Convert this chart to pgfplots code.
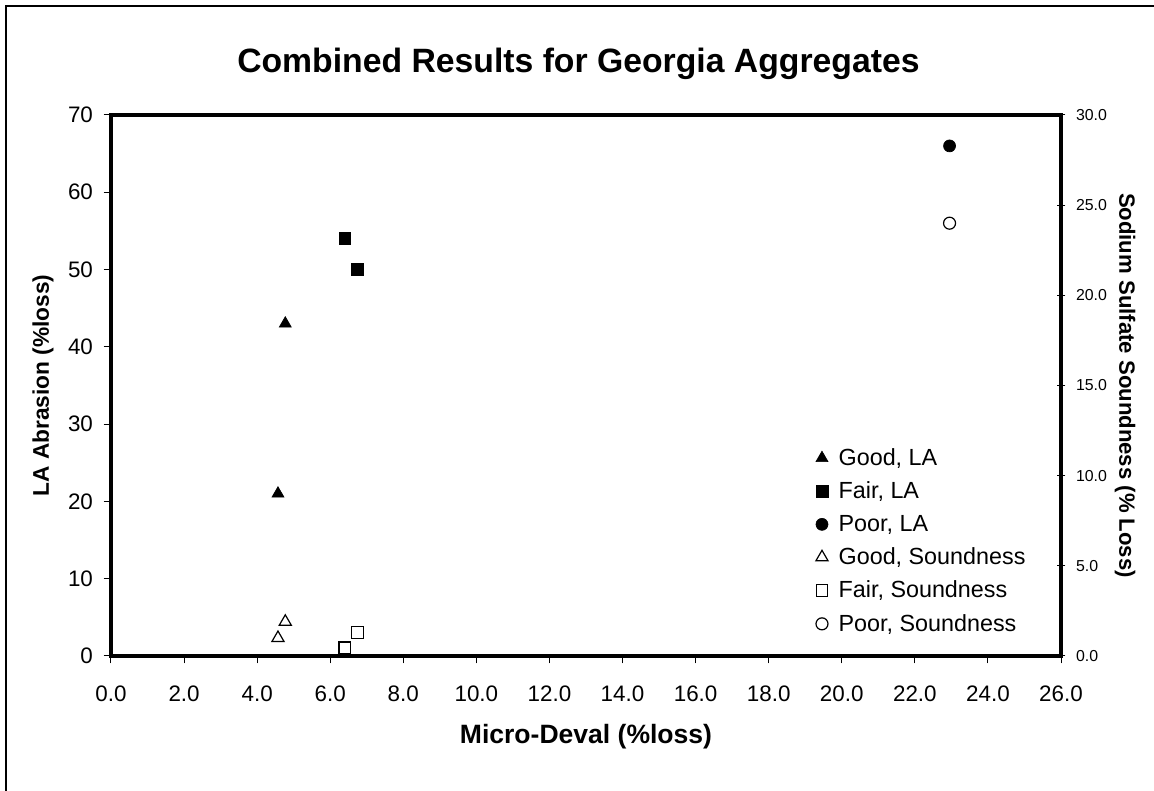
\documentclass[border=0pt]{standalone}
\usepackage{fontspec}
\setmainfont{Liberation Sans}
\usepackage{pgfplots}
\pgfplotsset{compat=1.18}
\begin{document}
\begin{tikzpicture}
\useasboundingbox (-83.25pt,-101.25pt) rectangle (782.25pt,492pt);
\draw[line width=1.5pt] (-78.75pt,-130pt) -- (-78.75pt,487.5pt) -- (820pt,487.5pt);
\begin{axis}[
  at={(0,0)}, anchor=south west,
  scale only axis, width=712.5pt, height=405.75pt,
  xmin=0, xmax=26, ymin=0, ymax=70,
  xtick={0,2,...,26}, ytick={0,10,...,70},
  xtick pos=left, ytick pos=left, tick align=outside,
  major tick length=5.5pt,
  axis line style={line width=2.4pt},
  tick style={line width=0.75pt, black},
  /pgf/number format/assume math mode=true,
  ticklabel style={font=\fontsize{16.8}{19}\selectfont},
  xticklabel style={yshift=-13pt, /pgf/number format/.cd, fixed, fixed zerofill, precision=1},
  yticklabel style={xshift=-4.5pt},
  title={Combined Results for Georgia Aggregates},
  title style={at={(axis description cs:0.492,1.1017)}, anchor=center, yshift=-9pt, font=\bfseries\fontsize{25.3}{28}\selectfont},
  xlabel={Micro-Deval (\%loss)},
  xlabel style={at={(axis description cs:0.5,-0.150)}, anchor=center, font=\bfseries\fontsize{19.9}{22}\selectfont},
  ylabel={LA Abrasion (\%loss)},
  ylabel style={at={(axis description cs:-0.0715,0.5)}, anchor=center, font=\bfseries\fontsize{17}{19}\selectfont},
  clip=false,
]
\addplot[only marks, mark=triangle*, mark size=5.2pt, mark options={fill=black, draw=black, line width=0.5pt}] coordinates {(4.57,21) (4.77,43)};
\addplot[only marks, mark=square*, mark size=4.4pt, mark options={fill=black, draw=black, line width=0.5pt}] coordinates {(6.40,54) (6.75,50)};
\addplot[only marks, mark=*, mark size=4.5pt, mark options={fill=black, draw=black, line width=0.5pt}] coordinates {(22.95,66)};
\end{axis}
\begin{axis}[
  at={(0,0)}, anchor=south west,
  scale only axis, width=712.5pt, height=405.75pt,
  xmin=0, xmax=26, ymin=0, ymax=30,
  axis x line=none, axis y line*=right,
  axis line style={-, line width=2.4pt},
  ytick={0,5,...,30}, tick align=center,
  major tick length=6.5pt,
  tick style={line width=0.75pt, black},
  /pgf/number format/assume math mode=true,
  yticklabel style={xshift=4.5pt, font=\fontsize{11.9}{14}\selectfont, /pgf/number format/.cd, fixed, fixed zerofill, precision=1},
  ylabel={Sodium Sulfate Soundness (\% Loss)},
  ylabel style={at={(axis description cs:1.0674,0.5)}, anchor=center, rotate=180, font=\bfseries\fontsize{16.6}{19}\selectfont},
  legend style={draw=none, fill=none, at={(rel axis cs:0.7376,0.3935)}, anchor=north west, font=\fontsize{17.5}{20}\selectfont, row sep=6.8pt},
  legend cell align=left,
  clip=false,
]
\addlegendimage{only marks, mark=triangle*, mark size=5.2pt, mark options={fill=black, draw=black, line width=0.5pt}}
\addlegendentry{\hspace{6pt}Good, LA}
\addlegendimage{only marks, mark=square*, mark size=4.4pt, mark options={fill=black, draw=black, line width=0.5pt}}
\addlegendentry{\hspace{6pt}Fair, LA}
\addlegendimage{only marks, mark=*, mark size=4.5pt, mark options={fill=black, draw=black, line width=0.5pt}}
\addlegendentry{\hspace{6pt}Poor, LA}
\addplot[only marks, mark=triangle*, mark size=5.2pt, mark options={fill=white, draw=black, line width=0.9pt}] coordinates {(4.57,1.0) (4.77,1.9)};
\addlegendentry{\hspace{6pt}Good, Soundness}
\addplot[only marks, mark=square*, mark size=4.4pt, mark options={fill=white, draw=black, line width=0.9pt}] coordinates {(6.40,0.45) (6.75,1.3)};
\addlegendentry{\hspace{6pt}Fair, Soundness}
\addplot[only marks, mark=*, mark size=4.5pt, mark options={fill=white, draw=black, line width=0.9pt}] coordinates {(22.95,24.0)};
\addlegendentry{\hspace{6pt}Poor, Soundness}
\end{axis}
\end{tikzpicture}
\end{document}
